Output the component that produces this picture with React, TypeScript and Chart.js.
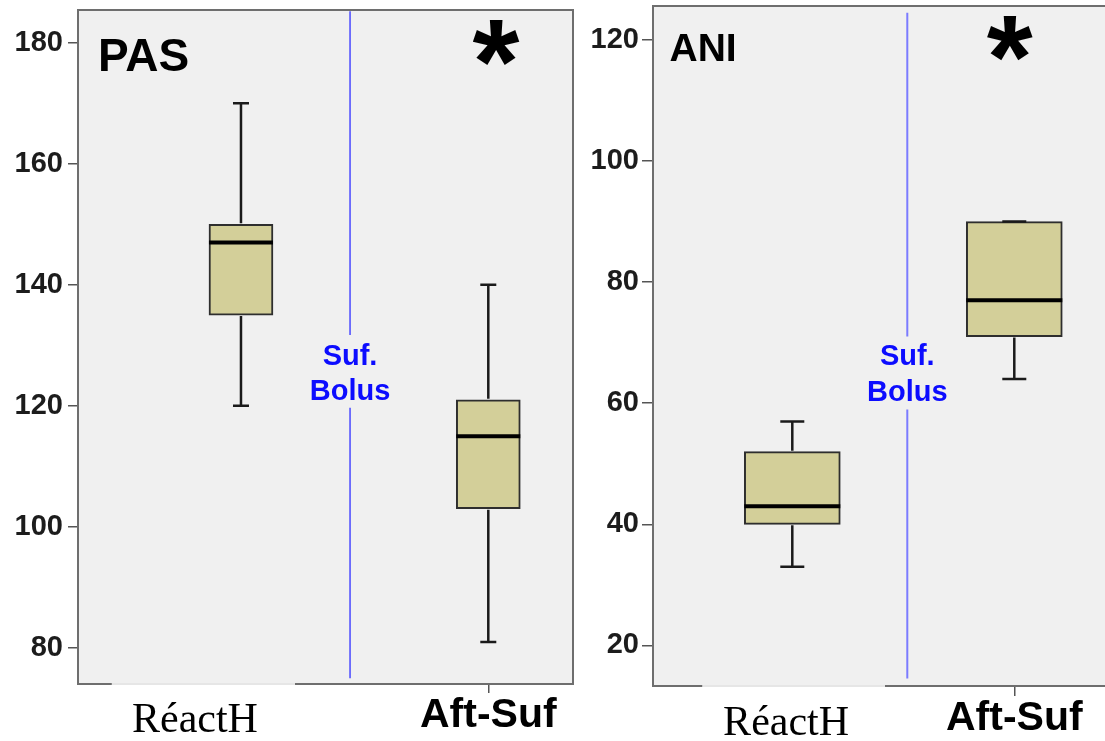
import React, { useEffect, useRef } from 'react';
import { Chart, registerables } from 'chart.js';

Chart.register(...registerables);

// ---------- data ----------
const categories = ['RéactH', 'Aft-Suf'];
const categoryPositions = [1, 2];

const pasMin = [120, 81];
const pasQ1 = [135, 103];
const pasMedian = [147, 115];
const pasQ3 = [150, 121];
const pasMax = [170, 140];
const pasTicks = [80, 100, 120, 140, 160, 180];

const aniMin = [33, 64];
const aniQ1 = [40, 71];
const aniMedian = [43, 77];
const aniQ3 = [52, 90];
const aniMax = [57, 90];
const aniTicks = [20, 40, 60, 80, 100, 120];

const separatorText = ['Suf.', 'Bolus'];
const significanceMark = '*';

const SANS = '"Liberation Sans", Arial, Helvetica, sans-serif';
const SERIF = '"Liberation Serif", "Times New Roman", Times, serif';

// ---------- panel layout / style config ----------
type PanelCfg = {
  title: string;
  min: number[]; q1: number[]; median: number[]; q3: number[]; max: number[];
  ticks: number[];
  width: number; height: number; left: number;
  padTop: number; padRight: number; yAxisWidth: number; xAxisHeight: number;
  xMin: number; xMax: number; yMin: number; yMax: number;
  labelPos: number[];
  gapFrom: number; gapTo: number;
  sepX: number; sepTop: number; sepBottom: number; sepText: number[];
  sepColor: string; sepWidth: number; sepGapAbove: number; sepGapBelow: number;
  barThickness: number;
  titleSize: number; titleDx: number; titleDy: number;
  sigX: number; sigY: number; sigWidth: number;
  yTickLength: number; yTickPadding: number; xTickLength: number;
  rightBorder: boolean;
};

const pasCfg: PanelCfg = {
  title: 'PAS',
  min: pasMin, q1: pasQ1, median: pasMedian, q3: pasQ3, max: pasMax,
  ticks: pasTicks,
  width: 580, height: 741, left: 0,
  padTop: 10, padRight: 7, yAxisWidth: 78, xAxisHeight: 57,
  xMin: 0.341, xMax: 2.3425, yMin: 74.05, yMax: 185.4,
  labelPos: [0.814, 2],
  gapFrom: 0.478, gapTo: 1.218,
  sepX: 1.441, sepTop: 185.2, sepBottom: 75.0, sepText: [126.75, 121.0],
  sepColor: '#4a4aff', sepWidth: 1.5, sepGapAbove: 30, sepGapBelow: 8,
  barThickness: 64,
  titleSize: 46, titleDx: 20, titleDy: 61,
  sigX: 2.031, sigY: 180.1, sigWidth: 47,
  yTickLength: 10, yTickPadding: 5, xTickLength: 9,
  rightBorder: true,
};

const aniCfg: PanelCfg = {
  title: 'ANI',
  min: aniMin, q1: aniQ1, median: aniMedian, q3: aniQ3, max: aniMax,
  ticks: aniTicks,
  width: 525, height: 741, left: 580,
  padTop: 6, padRight: 0, yAxisWidth: 73, xAxisHeight: 55,
  xMin: 0.3725, xMax: 2.4086, yMin: 13.3, yMax: 125.6,
  labelPos: [0.972, 2],
  gapFrom: 0.5955, gapTo: 1.4176,
  sepX: 1.518, sepTop: 124.5, sepBottom: 14.55, sepText: [66.25, 60.3],
  sepColor: '#7b7bff', sepWidth: 2, sepGapAbove: 29, sepGapBelow: 8,
  barThickness: 96,
  titleSize: 39, titleDx: 16.5, titleDy: 55,
  sigX: 1.98, sigY: 120.2, sigWidth: 46,
  yTickLength: 11, yTickPadding: 3, xTickLength: 10,
  rightBorder: false,
};

function makePlugin(p: PanelCfg) {
  return {
    id: 'panelDecor',
    beforeDraw(chart: any) {
      const { ctx, chartArea: a } = chart;
      ctx.save();
      ctx.fillStyle = '#f0f0f0';
      ctx.fillRect(a.left, a.top, a.right - a.left, a.bottom - a.top);
      ctx.restore();
    },
    afterDatasetsDraw(chart: any) {
      const { ctx, chartArea: a, scales } = chart;
      const x = scales.x;
      const y = scales.y;
      const meta = chart.getDatasetMeta(0);
      ctx.save();
      // whiskers and medians
      p.min.forEach((_, i) => {
        const cx = x.getPixelForValue(categoryPositions[i]);
        const w = (meta.data[i] as any).width as number;
        const cap = w / 4;
        const yMin = y.getPixelForValue(p.min[i]);
        const yQ1 = y.getPixelForValue(p.q1[i]);
        const yQ3 = y.getPixelForValue(p.q3[i]);
        const yMax = y.getPixelForValue(p.max[i]);
        const yMed = y.getPixelForValue(p.median[i]);
        ctx.strokeStyle = '#1a1a1a';
        ctx.lineWidth = 2.5;
        ctx.lineCap = 'butt';
        ctx.beginPath();
        ctx.moveTo(cx, yQ3 - 1); ctx.lineTo(cx, yMax);
        ctx.moveTo(cx - cap / 2, yMax); ctx.lineTo(cx + cap / 2, yMax);
        ctx.moveTo(cx, yQ1 + 1); ctx.lineTo(cx, yMin);
        ctx.moveTo(cx - cap / 2, yMin); ctx.lineTo(cx + cap / 2, yMin);
        ctx.stroke();
        ctx.strokeStyle = '#000';
        ctx.lineWidth = 4;
        ctx.beginPath();
        ctx.moveTo(cx - w / 2, yMed); ctx.lineTo(cx + w / 2, yMed);
        ctx.stroke();
      });

      // separator line with label
      const sx = x.getPixelForValue(p.sepX);
      const b1 = y.getPixelForValue(p.sepText[0]);
      const b2 = y.getPixelForValue(p.sepText[1]);
      ctx.fillStyle = '#0c0cff';
      ctx.font = `bold 29px ${SANS}`;
      ctx.textAlign = 'center';
      ctx.textBaseline = 'alphabetic';
      ctx.fillText(separatorText[0], sx, b1);
      ctx.fillText(separatorText[1], sx, b2);
      ctx.strokeStyle = p.sepColor;
      ctx.lineWidth = p.sepWidth;
      ctx.beginPath();
      ctx.moveTo(sx, y.getPixelForValue(p.sepTop));
      ctx.lineTo(sx, b1 - p.sepGapAbove);
      ctx.moveTo(sx, b2 + p.sepGapBelow);
      ctx.lineTo(sx, y.getPixelForValue(p.sepBottom));
      ctx.stroke();

      // panel title
      ctx.fillStyle = '#000';
      ctx.textAlign = 'left';
      ctx.font = `bold ${p.titleSize}px ${SANS}`;
      ctx.fillText(p.title, a.left + p.titleDx, a.top + p.titleDy);

      // significance asterisk
      ctx.font = `bold 100px ${SANS}`;
      let m = ctx.measureText(significanceMark);
      const size = 100 * p.sigWidth / (m.actualBoundingBoxLeft + m.actualBoundingBoxRight);
      ctx.font = `bold ${size}px ${SANS}`;
      m = ctx.measureText(significanceMark);
      const cxs = x.getPixelForValue(p.sigX);
      const cys = y.getPixelForValue(p.sigY);
      const tx = cxs - (m.actualBoundingBoxRight - m.actualBoundingBoxLeft) / 2;
      const ty = cys - (m.actualBoundingBoxDescent - m.actualBoundingBoxAscent) / 2;
      ctx.fillText(significanceMark, tx, ty);
      ctx.restore();
    },
    afterDraw(chart: any) {
      const { ctx, chartArea: a, scales } = chart;
      const x = scales.x;
      ctx.save();
      ctx.strokeStyle = '#6e6e6e';
      ctx.lineWidth = 2;
      ctx.beginPath();
      ctx.moveTo(a.left, a.bottom); ctx.lineTo(a.left, a.top);
      ctx.lineTo(a.right, a.top);
      if (p.rightBorder) ctx.lineTo(a.right, a.bottom);
      ctx.stroke();
      const g1 = x.getPixelForValue(p.gapFrom);
      const g2 = x.getPixelForValue(p.gapTo);
      ctx.beginPath();
      ctx.moveTo(a.left - 1, a.bottom); ctx.lineTo(g1, a.bottom);
      ctx.moveTo(g2, a.bottom); ctx.lineTo(a.right + (p.rightBorder ? 1 : 0), a.bottom);
      ctx.stroke();
      ctx.strokeStyle = '#e6e6e6';
      ctx.beginPath();
      ctx.moveTo(g1, a.bottom); ctx.lineTo(g2, a.bottom);
      ctx.stroke();
      ctx.restore();
    },
  };
}

function buildChart(canvas: HTMLCanvasElement, p: PanelCfg) {
  const boxes = categoryPositions.map((c, i) => ({ x: c, y: [p.q1[i], p.q3[i]] }));
  return new Chart(canvas, {
    type: 'bar',
    data: {
      datasets: [
        {
          label: p.title,
          data: boxes as any,
          backgroundColor: '#d3cf99',
          borderColor: '#2e2e2e',
          borderWidth: 2,
          borderSkipped: false,
          barThickness: p.barThickness,
        },
      ],
    },
    options: {
      animation: false,
      responsive: false,
      events: [],
      layout: { padding: { top: p.padTop, right: p.padRight, left: 0, bottom: 0 } },
      plugins: { legend: { display: false }, tooltip: { enabled: false }, title: { display: false } },
      scales: {
        x: {
          type: 'linear',
          min: p.xMin,
          max: p.xMax,
          offset: false,
          border: { display: false },
          grid: {
            offset: false,
            drawOnChartArea: false,
            drawTicks: true,
            tickLength: p.xTickLength,
            lineWidth: 1.5,
            color: (c: any) => (c.index === 0 ? 'rgba(0,0,0,0)' : '#555'),
            tickColor: (c: any) => (c.index === 0 ? 'rgba(0,0,0,0)' : '#555'),
          },
          ticks: {
            padding: 0,
            autoSkip: false,
            maxRotation: 0,
            minRotation: 0,
            color: '#000',
            font: (c: any) =>
              c.index === 0
                ? { family: SERIF, size: 42, weight: 'normal', lineHeight: 1.333 }
                : { family: SANS, size: 41, weight: 'bold', lineHeight: 1.122 },
            callback: (_v: any, i: number) => categories[i],
          },
          afterBuildTicks: (s: any) => {
            s.ticks = p.labelPos.map((v) => ({ value: v }));
          },
          afterFit: (s: any) => {
            s.height = p.xAxisHeight;
            s.paddingLeft = 0;
            s.paddingRight = 0;
          },
        } as any,
        y: {
          type: 'linear',
          min: p.yMin,
          max: p.yMax,
          beginAtZero: false,
          border: { display: false },
          grid: {
            drawOnChartArea: false,
            drawTicks: true,
            tickLength: p.yTickLength,
            lineWidth: 1.5,
            color: '#555',
            tickColor: '#555',
          },
          ticks: {
            padding: p.yTickPadding,
            color: '#1c1c1c',
            font: { family: SANS, size: 29, weight: 'bold' },
          },
          afterBuildTicks: (s: any) => {
            s.ticks = p.ticks.map((v) => ({ value: v }));
          },
          afterFit: (s: any) => {
            s.width = p.yAxisWidth;
            s.paddingTop = 0;
            s.paddingBottom = 0;
          },
        } as any,
      },
    },
    plugins: [makePlugin(p)],
  });
}

function Panel({ cfg }: { cfg: PanelCfg }) {
  const ref = useRef<HTMLCanvasElement>(null);
  useEffect(() => {
    const chart = buildChart(ref.current as HTMLCanvasElement, cfg);
    return () => chart.destroy();
  }, [cfg]);
  return (
    <canvas
      ref={ref}
      width={cfg.width}
      height={cfg.height}
      style={{ position: 'absolute', left: cfg.left, top: 0, width: cfg.width, height: cfg.height }}
    />
  );
}

export default function App() {
  return (
    <div
      style={{
        position: 'absolute',
        left: 0,
        top: 0,
        width: 1105,
        height: 741,
        background: '#ffffff',
        overflow: 'hidden',
      }}
    >
      <Panel cfg={pasCfg} />
      <Panel cfg={aniCfg} />
    </div>
  );
}
